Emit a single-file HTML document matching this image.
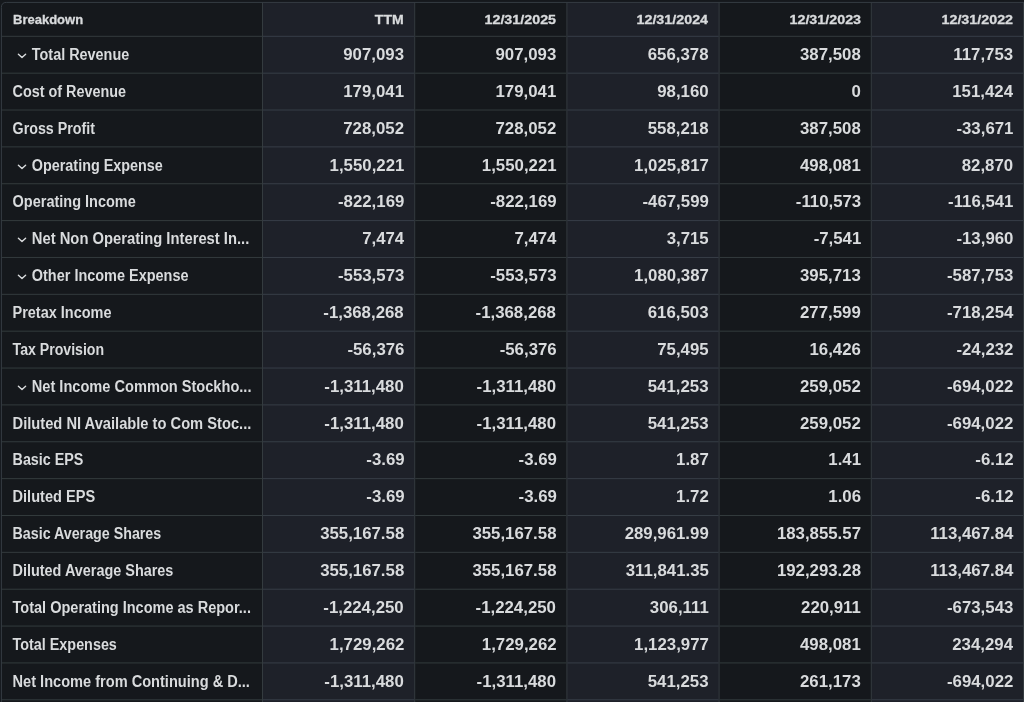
<!DOCTYPE html>
<html><head><meta charset="utf-8"><title>Income Statement - Financials</title>
<style>
*{box-sizing:border-box;margin:0;padding:0}
html,body{width:1024px;height:702px;overflow:hidden;background:#15181c}
body{font-family:"Liberation Sans",sans-serif;color:#d9dbdd;position:relative}
svg.grid{position:absolute;left:0;top:0}
.t{position:absolute;white-space:nowrap;will-change:transform;line-height:20px;height:20px}
.t span{display:inline-block}
.lab{font-size:16px;font-weight:700}
.lab span{transform:scaleX(0.902);transform-origin:0 50%}
.num{font-size:16px;font-weight:700;text-align:right;-webkit-text-stroke:0px currentColor}
.num span{transform:scaleX(1.05);transform-origin:100% 50%}
.hd,.hd0{font-size:13px;font-weight:700;-webkit-text-stroke:0.3px currentColor}
.hd{text-align:right}
.hd span{transform:scaleX(1.08);transform-origin:100% 50%}
.hd0 span{transform:scaleX(1.0);transform-origin:0 50%}
.chev{position:absolute;will-change:transform}
</style></head><body>
<div class="fin-table" style="position:absolute;left:0;top:0;width:1024px;height:702px">

<svg class="grid" width="1024" height="702" viewBox="0 0 1024 702">
<rect x="262.5" y="2.42" width="152.20" height="699.58" fill="#1e2129"/>
<rect x="566.9" y="2.42" width="152.20" height="699.58" fill="#1e2129"/>
<rect x="871.3" y="2.42" width="152.20" height="699.58" fill="#1e2129"/>
<rect x="262.00" y="2.42" width="1" height="699.58" fill="#343b3f"/>
<rect x="414.20" y="2.42" width="1" height="699.58" fill="#343b3f"/>
<rect x="566.40" y="2.42" width="1" height="699.58" fill="#343b3f"/>
<rect x="718.60" y="2.42" width="1" height="699.58" fill="#343b3f"/>
<rect x="870.80" y="2.42" width="1" height="699.58" fill="#343b3f"/>
<rect x="1023.00" y="2.42" width="1" height="699.58" fill="#343b3f"/>
<rect x="1.40" y="35.80" width="260.60" height="1" fill="#333b3d"/>
<rect x="263.00" y="35.80" width="151.20" height="1" fill="#373e47"/>
<rect x="415.20" y="35.80" width="151.20" height="1" fill="#333b3d"/>
<rect x="567.40" y="35.80" width="151.20" height="1" fill="#373e47"/>
<rect x="719.60" y="35.80" width="151.20" height="1" fill="#333b3d"/>
<rect x="871.80" y="35.80" width="151.20" height="1" fill="#373e47"/>
<rect x="1.40" y="72.66" width="260.60" height="1" fill="#333b3d"/>
<rect x="263.00" y="72.66" width="151.20" height="1" fill="#373e47"/>
<rect x="415.20" y="72.66" width="151.20" height="1" fill="#333b3d"/>
<rect x="567.40" y="72.66" width="151.20" height="1" fill="#373e47"/>
<rect x="719.60" y="72.66" width="151.20" height="1" fill="#333b3d"/>
<rect x="871.80" y="72.66" width="151.20" height="1" fill="#373e47"/>
<rect x="1.40" y="109.52" width="260.60" height="1" fill="#333b3d"/>
<rect x="263.00" y="109.52" width="151.20" height="1" fill="#373e47"/>
<rect x="415.20" y="109.52" width="151.20" height="1" fill="#333b3d"/>
<rect x="567.40" y="109.52" width="151.20" height="1" fill="#373e47"/>
<rect x="719.60" y="109.52" width="151.20" height="1" fill="#333b3d"/>
<rect x="871.80" y="109.52" width="151.20" height="1" fill="#373e47"/>
<rect x="1.40" y="146.38" width="260.60" height="1" fill="#333b3d"/>
<rect x="263.00" y="146.38" width="151.20" height="1" fill="#373e47"/>
<rect x="415.20" y="146.38" width="151.20" height="1" fill="#333b3d"/>
<rect x="567.40" y="146.38" width="151.20" height="1" fill="#373e47"/>
<rect x="719.60" y="146.38" width="151.20" height="1" fill="#333b3d"/>
<rect x="871.80" y="146.38" width="151.20" height="1" fill="#373e47"/>
<rect x="1.40" y="183.24" width="260.60" height="1" fill="#333b3d"/>
<rect x="263.00" y="183.24" width="151.20" height="1" fill="#373e47"/>
<rect x="415.20" y="183.24" width="151.20" height="1" fill="#333b3d"/>
<rect x="567.40" y="183.24" width="151.20" height="1" fill="#373e47"/>
<rect x="719.60" y="183.24" width="151.20" height="1" fill="#333b3d"/>
<rect x="871.80" y="183.24" width="151.20" height="1" fill="#373e47"/>
<rect x="1.40" y="220.10" width="260.60" height="1" fill="#333b3d"/>
<rect x="263.00" y="220.10" width="151.20" height="1" fill="#373e47"/>
<rect x="415.20" y="220.10" width="151.20" height="1" fill="#333b3d"/>
<rect x="567.40" y="220.10" width="151.20" height="1" fill="#373e47"/>
<rect x="719.60" y="220.10" width="151.20" height="1" fill="#333b3d"/>
<rect x="871.80" y="220.10" width="151.20" height="1" fill="#373e47"/>
<rect x="1.40" y="256.96" width="260.60" height="1" fill="#333b3d"/>
<rect x="263.00" y="256.96" width="151.20" height="1" fill="#373e47"/>
<rect x="415.20" y="256.96" width="151.20" height="1" fill="#333b3d"/>
<rect x="567.40" y="256.96" width="151.20" height="1" fill="#373e47"/>
<rect x="719.60" y="256.96" width="151.20" height="1" fill="#333b3d"/>
<rect x="871.80" y="256.96" width="151.20" height="1" fill="#373e47"/>
<rect x="1.40" y="293.82" width="260.60" height="1" fill="#333b3d"/>
<rect x="263.00" y="293.82" width="151.20" height="1" fill="#373e47"/>
<rect x="415.20" y="293.82" width="151.20" height="1" fill="#333b3d"/>
<rect x="567.40" y="293.82" width="151.20" height="1" fill="#373e47"/>
<rect x="719.60" y="293.82" width="151.20" height="1" fill="#333b3d"/>
<rect x="871.80" y="293.82" width="151.20" height="1" fill="#373e47"/>
<rect x="1.40" y="330.68" width="260.60" height="1" fill="#333b3d"/>
<rect x="263.00" y="330.68" width="151.20" height="1" fill="#373e47"/>
<rect x="415.20" y="330.68" width="151.20" height="1" fill="#333b3d"/>
<rect x="567.40" y="330.68" width="151.20" height="1" fill="#373e47"/>
<rect x="719.60" y="330.68" width="151.20" height="1" fill="#333b3d"/>
<rect x="871.80" y="330.68" width="151.20" height="1" fill="#373e47"/>
<rect x="1.40" y="367.54" width="260.60" height="1" fill="#333b3d"/>
<rect x="263.00" y="367.54" width="151.20" height="1" fill="#373e47"/>
<rect x="415.20" y="367.54" width="151.20" height="1" fill="#333b3d"/>
<rect x="567.40" y="367.54" width="151.20" height="1" fill="#373e47"/>
<rect x="719.60" y="367.54" width="151.20" height="1" fill="#333b3d"/>
<rect x="871.80" y="367.54" width="151.20" height="1" fill="#373e47"/>
<rect x="1.40" y="404.40" width="260.60" height="1" fill="#333b3d"/>
<rect x="263.00" y="404.40" width="151.20" height="1" fill="#373e47"/>
<rect x="415.20" y="404.40" width="151.20" height="1" fill="#333b3d"/>
<rect x="567.40" y="404.40" width="151.20" height="1" fill="#373e47"/>
<rect x="719.60" y="404.40" width="151.20" height="1" fill="#333b3d"/>
<rect x="871.80" y="404.40" width="151.20" height="1" fill="#373e47"/>
<rect x="1.40" y="441.26" width="260.60" height="1" fill="#333b3d"/>
<rect x="263.00" y="441.26" width="151.20" height="1" fill="#373e47"/>
<rect x="415.20" y="441.26" width="151.20" height="1" fill="#333b3d"/>
<rect x="567.40" y="441.26" width="151.20" height="1" fill="#373e47"/>
<rect x="719.60" y="441.26" width="151.20" height="1" fill="#333b3d"/>
<rect x="871.80" y="441.26" width="151.20" height="1" fill="#373e47"/>
<rect x="1.40" y="478.12" width="260.60" height="1" fill="#333b3d"/>
<rect x="263.00" y="478.12" width="151.20" height="1" fill="#373e47"/>
<rect x="415.20" y="478.12" width="151.20" height="1" fill="#333b3d"/>
<rect x="567.40" y="478.12" width="151.20" height="1" fill="#373e47"/>
<rect x="719.60" y="478.12" width="151.20" height="1" fill="#333b3d"/>
<rect x="871.80" y="478.12" width="151.20" height="1" fill="#373e47"/>
<rect x="1.40" y="514.98" width="260.60" height="1" fill="#333b3d"/>
<rect x="263.00" y="514.98" width="151.20" height="1" fill="#373e47"/>
<rect x="415.20" y="514.98" width="151.20" height="1" fill="#333b3d"/>
<rect x="567.40" y="514.98" width="151.20" height="1" fill="#373e47"/>
<rect x="719.60" y="514.98" width="151.20" height="1" fill="#333b3d"/>
<rect x="871.80" y="514.98" width="151.20" height="1" fill="#373e47"/>
<rect x="1.40" y="551.84" width="260.60" height="1" fill="#333b3d"/>
<rect x="263.00" y="551.84" width="151.20" height="1" fill="#373e47"/>
<rect x="415.20" y="551.84" width="151.20" height="1" fill="#333b3d"/>
<rect x="567.40" y="551.84" width="151.20" height="1" fill="#373e47"/>
<rect x="719.60" y="551.84" width="151.20" height="1" fill="#333b3d"/>
<rect x="871.80" y="551.84" width="151.20" height="1" fill="#373e47"/>
<rect x="1.40" y="588.70" width="260.60" height="1" fill="#333b3d"/>
<rect x="263.00" y="588.70" width="151.20" height="1" fill="#373e47"/>
<rect x="415.20" y="588.70" width="151.20" height="1" fill="#333b3d"/>
<rect x="567.40" y="588.70" width="151.20" height="1" fill="#373e47"/>
<rect x="719.60" y="588.70" width="151.20" height="1" fill="#333b3d"/>
<rect x="871.80" y="588.70" width="151.20" height="1" fill="#373e47"/>
<rect x="1.40" y="625.56" width="260.60" height="1" fill="#333b3d"/>
<rect x="263.00" y="625.56" width="151.20" height="1" fill="#373e47"/>
<rect x="415.20" y="625.56" width="151.20" height="1" fill="#333b3d"/>
<rect x="567.40" y="625.56" width="151.20" height="1" fill="#373e47"/>
<rect x="719.60" y="625.56" width="151.20" height="1" fill="#333b3d"/>
<rect x="871.80" y="625.56" width="151.20" height="1" fill="#373e47"/>
<rect x="1.40" y="662.42" width="260.60" height="1" fill="#333b3d"/>
<rect x="263.00" y="662.42" width="151.20" height="1" fill="#373e47"/>
<rect x="415.20" y="662.42" width="151.20" height="1" fill="#333b3d"/>
<rect x="567.40" y="662.42" width="151.20" height="1" fill="#373e47"/>
<rect x="719.60" y="662.42" width="151.20" height="1" fill="#333b3d"/>
<rect x="871.80" y="662.42" width="151.20" height="1" fill="#373e47"/>
<rect x="1.40" y="699.28" width="260.60" height="1" fill="#333b3d"/>
<rect x="263.00" y="699.28" width="151.20" height="1" fill="#373e47"/>
<rect x="415.20" y="699.28" width="151.20" height="1" fill="#333b3d"/>
<rect x="567.40" y="699.28" width="151.20" height="1" fill="#373e47"/>
<rect x="719.60" y="699.28" width="151.20" height="1" fill="#333b3d"/>
<rect x="871.80" y="699.28" width="151.20" height="1" fill="#373e47"/>
<path d="M1.4 702 L1.4 7.42 Q1.4 2.42 6.4 2.42 L1024 2.42" fill="none" stroke="#353c43" stroke-width="1"/>
</svg>
<div class="t hd0" style="left:13.0px;top:10.00px"><span>Breakdown</span></div>
<div class="t hd" style="left:263.00px;width:141.10px;top:10px"><span>TTM</span></div>
<div class="t hd" style="left:415.20px;width:141.10px;top:10px"><span style="transform:scaleX(1.1)">12/31/2025</span></div>
<div class="t hd" style="left:567.40px;width:141.10px;top:10px"><span style="transform:scaleX(1.1)">12/31/2024</span></div>
<div class="t hd" style="left:719.60px;width:141.10px;top:10px"><span style="transform:scaleX(1.1)">12/31/2023</span></div>
<div class="t hd" style="left:871.80px;width:141.10px;top:10px"><span style="transform:scaleX(1.1)">12/31/2022</span></div>
<svg class="chev" style="left:17.2px;top:52.00px" width="10" height="8" viewBox="0 0 10 8"><path d="M1.4 2.2 L5 5.6 L8.6 2.2" fill="none" stroke="#d9dbdd" stroke-width="1.4" stroke-linecap="round" stroke-linejoin="round"/></svg>
<div class="t lab" style="left:31px;top:45px"><span style="transform:translateX(0.80px) scaleX(0.9008)">Total Revenue</span></div>
<div class="t num" style="left:263px;width:141px;top:45px"><span style="transform:translateX(0.15px) scaleX(1.05)">907,093</span></div>
<div class="t num" style="left:415px;width:141px;top:45px"><span style="transform:translateX(0.40px) scaleX(1.05)">907,093</span></div>
<div class="t num" style="left:567px;width:141px;top:45px"><span style="transform:translateX(0.65px) scaleX(1.05)">656,378</span></div>
<div class="t num" style="left:720px;width:140px;top:45px"><span style="transform:translateX(0.90px) scaleX(1.05)">387,508</span></div>
<div class="t num" style="left:872px;width:141px;top:45px"><span style="transform:translateX(0.15px) scaleX(1.05)">117,753</span></div>
<div class="t lab" style="left:12px;top:82px"><span style="transform:translateX(0.55px) scaleX(0.8995)">Cost of Revenue</span></div>
<div class="t num" style="left:263px;width:141px;top:82px"><span style="transform:translateX(0.15px) scaleX(1.05)">179,041</span></div>
<div class="t num" style="left:415px;width:141px;top:82px"><span style="transform:translateX(0.40px) scaleX(1.05)">179,041</span></div>
<div class="t num" style="left:567px;width:141px;top:82px"><span style="transform:translateX(0.65px) scaleX(1.05)">98,160</span></div>
<div class="t num" style="left:720px;width:140px;top:82px"><span style="transform:translateX(0.90px) scaleX(1.05)">0</span></div>
<div class="t num" style="left:872px;width:141px;top:82px"><span style="transform:translateX(0.15px) scaleX(1.05)">151,424</span></div>
<div class="t lab" style="left:12px;top:119px"><span style="transform:translateX(0.55px) scaleX(0.8908)">Gross Profit</span></div>
<div class="t num" style="left:263px;width:141px;top:119px"><span style="transform:translateX(0.15px) scaleX(1.05)">728,052</span></div>
<div class="t num" style="left:415px;width:141px;top:119px"><span style="transform:translateX(0.40px) scaleX(1.05)">728,052</span></div>
<div class="t num" style="left:567px;width:141px;top:119px"><span style="transform:translateX(0.65px) scaleX(1.05)">558,218</span></div>
<div class="t num" style="left:720px;width:140px;top:119px"><span style="transform:translateX(0.90px) scaleX(1.05)">387,508</span></div>
<div class="t num" style="left:872px;width:141px;top:119px"><span style="transform:translateX(0.15px) scaleX(1.05)">-33,671</span></div>
<svg class="chev" style="left:17.2px;top:163.00px" width="10" height="8" viewBox="0 0 10 8"><path d="M1.4 2.2 L5 5.6 L8.6 2.2" fill="none" stroke="#d9dbdd" stroke-width="1.4" stroke-linecap="round" stroke-linejoin="round"/></svg>
<div class="t lab" style="left:31px;top:156px"><span style="transform:translateX(0.80px) scaleX(0.8986)">Operating Expense</span></div>
<div class="t num" style="left:263px;width:141px;top:156px"><span style="transform:translateX(0.15px) scaleX(1.05)">1,550,221</span></div>
<div class="t num" style="left:415px;width:141px;top:156px"><span style="transform:translateX(0.40px) scaleX(1.05)">1,550,221</span></div>
<div class="t num" style="left:567px;width:141px;top:156px"><span style="transform:translateX(0.65px) scaleX(1.05)">1,025,817</span></div>
<div class="t num" style="left:720px;width:140px;top:156px"><span style="transform:translateX(0.90px) scaleX(1.05)">498,081</span></div>
<div class="t num" style="left:872px;width:141px;top:156px"><span style="transform:translateX(0.15px) scaleX(1.05)">82,870</span></div>
<div class="t lab" style="left:12px;top:192px"><span style="transform:translateX(0.55px) scaleX(0.9061)">Operating Income</span></div>
<div class="t num" style="left:263px;width:141px;top:192px"><span style="transform:translateX(0.15px) scaleX(1.05)">-822,169</span></div>
<div class="t num" style="left:415px;width:141px;top:192px"><span style="transform:translateX(0.40px) scaleX(1.05)">-822,169</span></div>
<div class="t num" style="left:567px;width:141px;top:192px"><span style="transform:translateX(0.65px) scaleX(1.05)">-467,599</span></div>
<div class="t num" style="left:720px;width:140px;top:192px"><span style="transform:translateX(0.90px) scaleX(1.05)">-110,573</span></div>
<div class="t num" style="left:872px;width:141px;top:192px"><span style="transform:translateX(0.15px) scaleX(1.05)">-116,541</span></div>
<svg class="chev" style="left:17.2px;top:236.00px" width="10" height="8" viewBox="0 0 10 8"><path d="M1.4 2.2 L5 5.6 L8.6 2.2" fill="none" stroke="#d9dbdd" stroke-width="1.4" stroke-linecap="round" stroke-linejoin="round"/></svg>
<div class="t lab" style="left:31px;top:229px"><span style="transform:translateX(0.80px) scaleX(0.9231)">Net Non Operating Interest In...</span></div>
<div class="t num" style="left:263px;width:141px;top:229px"><span style="transform:translateX(0.15px) scaleX(1.05)">7,474</span></div>
<div class="t num" style="left:415px;width:141px;top:229px"><span style="transform:translateX(0.40px) scaleX(1.05)">7,474</span></div>
<div class="t num" style="left:567px;width:141px;top:229px"><span style="transform:translateX(0.65px) scaleX(1.05)">3,715</span></div>
<div class="t num" style="left:720px;width:140px;top:229px"><span style="transform:translateX(0.90px) scaleX(1.05)">-7,541</span></div>
<div class="t num" style="left:872px;width:141px;top:229px"><span style="transform:translateX(0.15px) scaleX(1.05)">-13,960</span></div>
<svg class="chev" style="left:17.2px;top:273.00px" width="10" height="8" viewBox="0 0 10 8"><path d="M1.4 2.2 L5 5.6 L8.6 2.2" fill="none" stroke="#d9dbdd" stroke-width="1.4" stroke-linecap="round" stroke-linejoin="round"/></svg>
<div class="t lab" style="left:31px;top:266px"><span style="transform:translateX(0.80px) scaleX(0.9039)">Other Income Expense</span></div>
<div class="t num" style="left:263px;width:141px;top:266px"><span style="transform:translateX(0.15px) scaleX(1.05)">-553,573</span></div>
<div class="t num" style="left:415px;width:141px;top:266px"><span style="transform:translateX(0.40px) scaleX(1.05)">-553,573</span></div>
<div class="t num" style="left:567px;width:141px;top:266px"><span style="transform:translateX(0.65px) scaleX(1.05)">1,080,387</span></div>
<div class="t num" style="left:720px;width:140px;top:266px"><span style="transform:translateX(0.90px) scaleX(1.05)">395,713</span></div>
<div class="t num" style="left:872px;width:141px;top:266px"><span style="transform:translateX(0.15px) scaleX(1.05)">-587,753</span></div>
<div class="t lab" style="left:12px;top:303px"><span style="transform:translateX(0.55px) scaleX(0.9039)">Pretax Income</span></div>
<div class="t num" style="left:263px;width:141px;top:303px"><span style="transform:translateX(0.15px) scaleX(1.05)">-1,368,268</span></div>
<div class="t num" style="left:415px;width:141px;top:303px"><span style="transform:translateX(0.40px) scaleX(1.05)">-1,368,268</span></div>
<div class="t num" style="left:567px;width:141px;top:303px"><span style="transform:translateX(0.65px) scaleX(1.05)">616,503</span></div>
<div class="t num" style="left:720px;width:140px;top:303px"><span style="transform:translateX(0.90px) scaleX(1.05)">277,599</span></div>
<div class="t num" style="left:872px;width:141px;top:303px"><span style="transform:translateX(0.15px) scaleX(1.05)">-718,254</span></div>
<div class="t lab" style="left:12px;top:340px"><span style="transform:translateX(0.55px) scaleX(0.8826)">Tax Provision</span></div>
<div class="t num" style="left:263px;width:141px;top:340px"><span style="transform:translateX(0.15px) scaleX(1.05)">-56,376</span></div>
<div class="t num" style="left:415px;width:141px;top:340px"><span style="transform:translateX(0.40px) scaleX(1.05)">-56,376</span></div>
<div class="t num" style="left:567px;width:141px;top:340px"><span style="transform:translateX(0.65px) scaleX(1.05)">75,495</span></div>
<div class="t num" style="left:720px;width:140px;top:340px"><span style="transform:translateX(0.90px) scaleX(1.05)">16,426</span></div>
<div class="t num" style="left:872px;width:141px;top:340px"><span style="transform:translateX(0.15px) scaleX(1.05)">-24,232</span></div>
<svg class="chev" style="left:17.2px;top:384.00px" width="10" height="8" viewBox="0 0 10 8"><path d="M1.4 2.2 L5 5.6 L8.6 2.2" fill="none" stroke="#d9dbdd" stroke-width="1.4" stroke-linecap="round" stroke-linejoin="round"/></svg>
<div class="t lab" style="left:31px;top:377px"><span style="transform:translateX(0.80px) scaleX(0.9118)">Net Income Common Stockho...</span></div>
<div class="t num" style="left:263px;width:141px;top:377px"><span style="transform:translateX(0.15px) scaleX(1.05)">-1,311,480</span></div>
<div class="t num" style="left:415px;width:141px;top:377px"><span style="transform:translateX(0.40px) scaleX(1.05)">-1,311,480</span></div>
<div class="t num" style="left:567px;width:141px;top:377px"><span style="transform:translateX(0.65px) scaleX(1.05)">541,253</span></div>
<div class="t num" style="left:720px;width:140px;top:377px"><span style="transform:translateX(0.90px) scaleX(1.05)">259,052</span></div>
<div class="t num" style="left:872px;width:141px;top:377px"><span style="transform:translateX(0.15px) scaleX(1.05)">-694,022</span></div>
<div class="t lab" style="left:12px;top:414px"><span style="transform:translateX(0.55px) scaleX(0.9176)">Diluted NI Available to Com Stoc...</span></div>
<div class="t num" style="left:263px;width:141px;top:414px"><span style="transform:translateX(0.15px) scaleX(1.05)">-1,311,480</span></div>
<div class="t num" style="left:415px;width:141px;top:414px"><span style="transform:translateX(0.40px) scaleX(1.05)">-1,311,480</span></div>
<div class="t num" style="left:567px;width:141px;top:414px"><span style="transform:translateX(0.65px) scaleX(1.05)">541,253</span></div>
<div class="t num" style="left:720px;width:140px;top:414px"><span style="transform:translateX(0.90px) scaleX(1.05)">259,052</span></div>
<div class="t num" style="left:872px;width:141px;top:414px"><span style="transform:translateX(0.15px) scaleX(1.05)">-694,022</span></div>
<div class="t lab" style="left:12px;top:450px"><span style="transform:translateX(0.55px) scaleX(0.8954)">Basic EPS</span></div>
<div class="t num" style="left:263px;width:141px;top:450px"><span style="transform:translateX(0.15px) scaleX(1.05)">-3.69</span></div>
<div class="t num" style="left:415px;width:141px;top:450px"><span style="transform:translateX(0.40px) scaleX(1.05)">-3.69</span></div>
<div class="t num" style="left:567px;width:141px;top:450px"><span style="transform:translateX(0.65px) scaleX(1.05)">1.87</span></div>
<div class="t num" style="left:720px;width:140px;top:450px"><span style="transform:translateX(0.90px) scaleX(1.05)">1.41</span></div>
<div class="t num" style="left:872px;width:141px;top:450px"><span style="transform:translateX(0.15px) scaleX(1.05)">-6.12</span></div>
<div class="t lab" style="left:12px;top:487px"><span style="transform:translateX(0.55px) scaleX(0.9106)">Diluted EPS</span></div>
<div class="t num" style="left:263px;width:141px;top:487px"><span style="transform:translateX(0.15px) scaleX(1.05)">-3.69</span></div>
<div class="t num" style="left:415px;width:141px;top:487px"><span style="transform:translateX(0.40px) scaleX(1.05)">-3.69</span></div>
<div class="t num" style="left:567px;width:141px;top:487px"><span style="transform:translateX(0.65px) scaleX(1.05)">1.72</span></div>
<div class="t num" style="left:720px;width:140px;top:487px"><span style="transform:translateX(0.90px) scaleX(1.05)">1.06</span></div>
<div class="t num" style="left:872px;width:141px;top:487px"><span style="transform:translateX(0.15px) scaleX(1.05)">-6.12</span></div>
<div class="t lab" style="left:12px;top:524px"><span style="transform:translateX(0.55px) scaleX(0.8907)">Basic Average Shares</span></div>
<div class="t num" style="left:263px;width:141px;top:524px"><span style="transform:translateX(0.15px) scaleX(1.05)">355,167.58</span></div>
<div class="t num" style="left:415px;width:141px;top:524px"><span style="transform:translateX(0.40px) scaleX(1.05)">355,167.58</span></div>
<div class="t num" style="left:567px;width:141px;top:524px"><span style="transform:translateX(0.65px) scaleX(1.05)">289,961.99</span></div>
<div class="t num" style="left:720px;width:140px;top:524px"><span style="transform:translateX(0.90px) scaleX(1.05)">183,855.57</span></div>
<div class="t num" style="left:872px;width:141px;top:524px"><span style="transform:translateX(0.15px) scaleX(1.05)">113,467.84</span></div>
<div class="t lab" style="left:12px;top:561px"><span style="transform:translateX(0.55px) scaleX(0.9012)">Diluted Average Shares</span></div>
<div class="t num" style="left:263px;width:141px;top:561px"><span style="transform:translateX(0.15px) scaleX(1.05)">355,167.58</span></div>
<div class="t num" style="left:415px;width:141px;top:561px"><span style="transform:translateX(0.40px) scaleX(1.05)">355,167.58</span></div>
<div class="t num" style="left:567px;width:141px;top:561px"><span style="transform:translateX(0.65px) scaleX(1.05)">311,841.35</span></div>
<div class="t num" style="left:720px;width:140px;top:561px"><span style="transform:translateX(0.90px) scaleX(1.05)">192,293.28</span></div>
<div class="t num" style="left:872px;width:141px;top:561px"><span style="transform:translateX(0.15px) scaleX(1.05)">113,467.84</span></div>
<div class="t lab" style="left:12px;top:598px"><span style="transform:translateX(0.55px) scaleX(0.9068)">Total Operating Income as Repor...</span></div>
<div class="t num" style="left:263px;width:141px;top:598px"><span style="transform:translateX(0.15px) scaleX(1.05)">-1,224,250</span></div>
<div class="t num" style="left:415px;width:141px;top:598px"><span style="transform:translateX(0.40px) scaleX(1.05)">-1,224,250</span></div>
<div class="t num" style="left:567px;width:141px;top:598px"><span style="transform:translateX(0.65px) scaleX(1.05)">306,111</span></div>
<div class="t num" style="left:720px;width:140px;top:598px"><span style="transform:translateX(0.90px) scaleX(1.05)">220,911</span></div>
<div class="t num" style="left:872px;width:141px;top:598px"><span style="transform:translateX(0.15px) scaleX(1.05)">-673,543</span></div>
<div class="t lab" style="left:12px;top:635px"><span style="transform:translateX(0.55px) scaleX(0.8978)">Total Expenses</span></div>
<div class="t num" style="left:263px;width:141px;top:635px"><span style="transform:translateX(0.15px) scaleX(1.05)">1,729,262</span></div>
<div class="t num" style="left:415px;width:141px;top:635px"><span style="transform:translateX(0.40px) scaleX(1.05)">1,729,262</span></div>
<div class="t num" style="left:567px;width:141px;top:635px"><span style="transform:translateX(0.65px) scaleX(1.05)">1,123,977</span></div>
<div class="t num" style="left:720px;width:140px;top:635px"><span style="transform:translateX(0.90px) scaleX(1.05)">498,081</span></div>
<div class="t num" style="left:872px;width:141px;top:635px"><span style="transform:translateX(0.15px) scaleX(1.05)">234,294</span></div>
<div class="t lab" style="left:12px;top:672px"><span style="transform:translateX(0.55px) scaleX(0.9114)">Net Income from Continuing &amp; D...</span></div>
<div class="t num" style="left:263px;width:141px;top:672px"><span style="transform:translateX(0.15px) scaleX(1.05)">-1,311,480</span></div>
<div class="t num" style="left:415px;width:141px;top:672px"><span style="transform:translateX(0.40px) scaleX(1.05)">-1,311,480</span></div>
<div class="t num" style="left:567px;width:141px;top:672px"><span style="transform:translateX(0.65px) scaleX(1.05)">541,253</span></div>
<div class="t num" style="left:720px;width:140px;top:672px"><span style="transform:translateX(0.90px) scaleX(1.05)">261,173</span></div>
<div class="t num" style="left:872px;width:141px;top:672px"><span style="transform:translateX(0.15px) scaleX(1.05)">-694,022</span></div>
</div></body></html>
